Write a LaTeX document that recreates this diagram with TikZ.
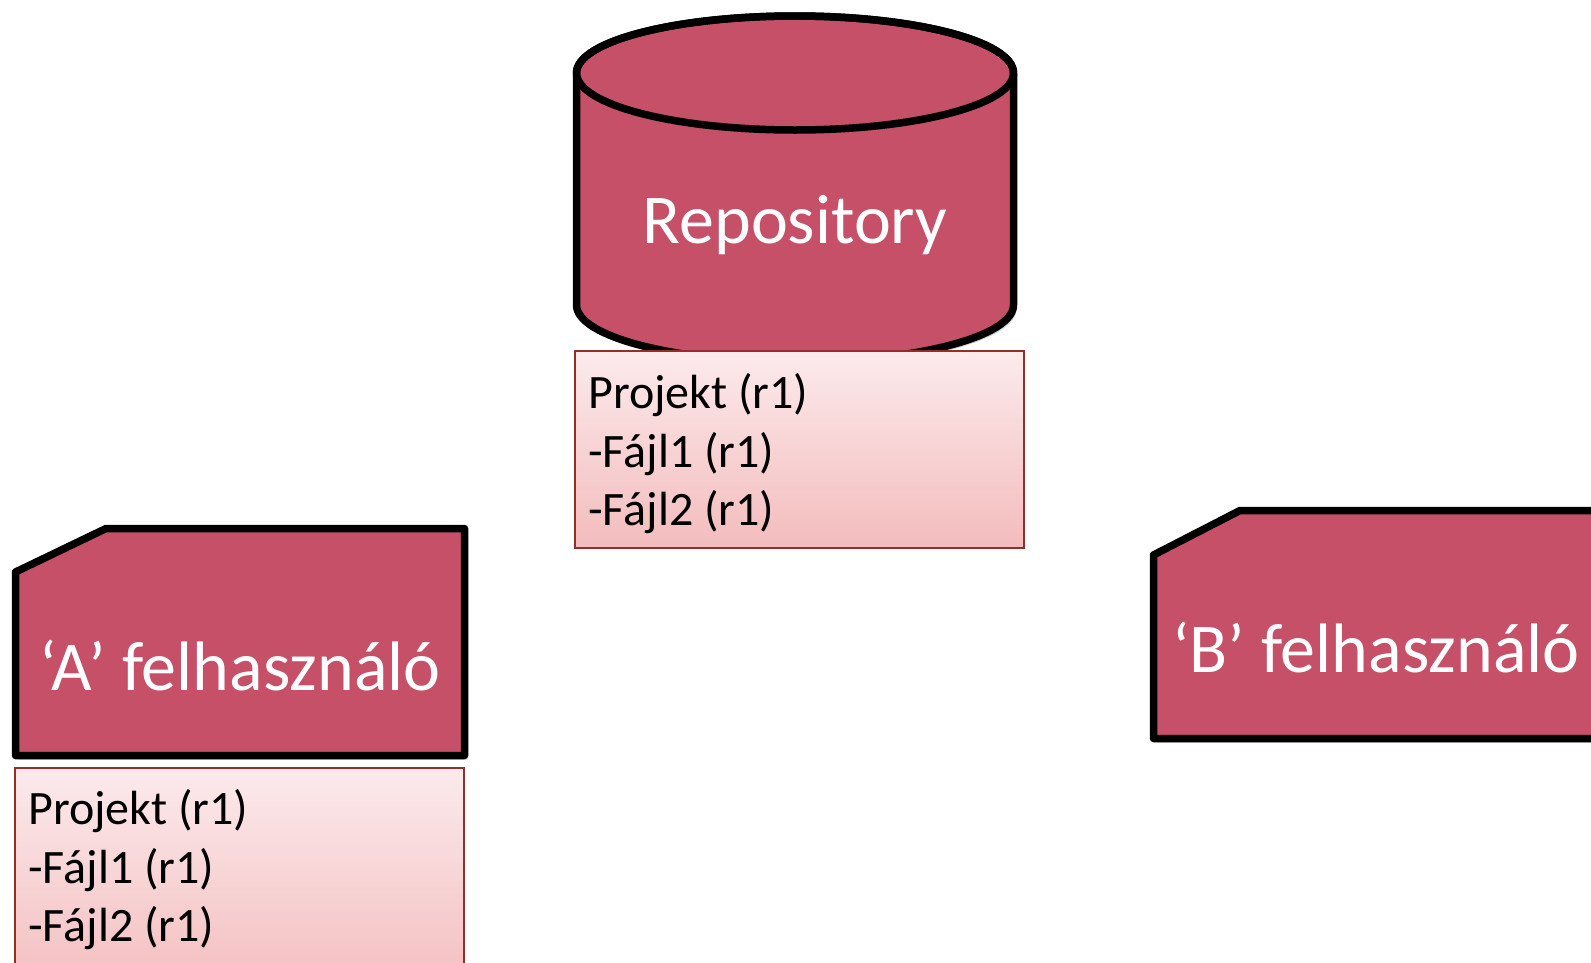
\documentclass[tikz,border=0pt]{standalone}
\usepackage{fontspec}
\setmainfont{Carlito}
\definecolor{shapefill}{RGB}{197,80,104}
\definecolor{listtop}{RGB}{252,234,236}
\definecolor{listbot}{RGB}{243,188,189}
\definecolor{listborder}{RGB}{150,45,45}
\tikzset{
  shapebox/.style={fill=shapefill, draw=black, line width=7.5pt, line join=round},
  shadowbox/.style={fill=black, opacity=0.18},
  listbox/.style={top color=listtop, bottom color=listbot, draw=listborder, line width=1.3pt},
  bigtext/.style={text=white, font=\fontsize{70}{84}\selectfont, inner sep=0pt, anchor=base},
  listtext/.style={text=black, font=\fontsize{48}{58}\selectfont, inner sep=0pt, anchor=base west}
}
\begin{document}
\begin{tikzpicture}[x=1pt,y=-1pt]
\useasboundingbox (0,0) rectangle (1591,962);
\clip (0,0) rectangle (1591,962);

% Repository cylinder
\path[shadowbox] (579.5,77) -- (579.5,309) arc[start angle=180,end angle=0,x radius=218.5,y radius=57] -- (1016.5,77) arc[start angle=0,end angle=-180,x radius=218.5,y radius=57] -- cycle;
\path[shapebox] (576.5,73) -- (576.5,305) arc[start angle=180,end angle=0,x radius=218.5,y radius=57] -- (1013.5,73) arc[start angle=0,end angle=-180,x radius=218.5,y radius=57] -- cycle;
\draw[shapebox, fill=none] (795,73) ellipse[x radius=218.5, y radius=57];
\node[bigtext] (repo) at (795,243.5) {Repository};

% Repository list
\path[listbox] (575,351) rectangle (1024,548);
\node[listtext] (r1) at (588,408) {Projekt (r1)};
\node[listtext] (r2) at (588,467) {-Fájl1 (r1)};
\node[listtext] (r3) at (588,525) {-Fájl2 (r1)};

% A user
\path[shadowbox] (18.5,576) -- (109,532.5) -- (467.5,532.5) -- (467.5,759.5) -- (18.5,759.5) -- cycle;
\path[shapebox] (15.5,572) -- (106,528.5) -- (464.5,528.5) -- (464.5,755.5) -- (15.5,755.5) -- cycle;
\node[bigtext] (ua) at (240,690) {‘A’ felhasználó};

% A list
\path[listbox] (15,768) rectangle (464,1000);
\node[listtext] (a1) at (28,824) {Projekt (r1)};
\node[listtext] (a2) at (28,883) {-Fájl1 (r1)};
\node[listtext] (a3) at (28,941) {-Fájl2 (r1)};

% B user
\path[shadowbox] (1156.5,559) -- (1243,514.5) -- (1640,514.5) -- (1640,742.5) -- (1156.5,742.5) -- cycle;
\path[shapebox] (1153.5,555) -- (1240,510.5) -- (1640,510.5) -- (1640,738.5) -- (1153.5,738.5) -- cycle;
\node[bigtext] (ub) at (1376,672) {‘B’ felhasználó};
\end{tikzpicture}
\end{document}
